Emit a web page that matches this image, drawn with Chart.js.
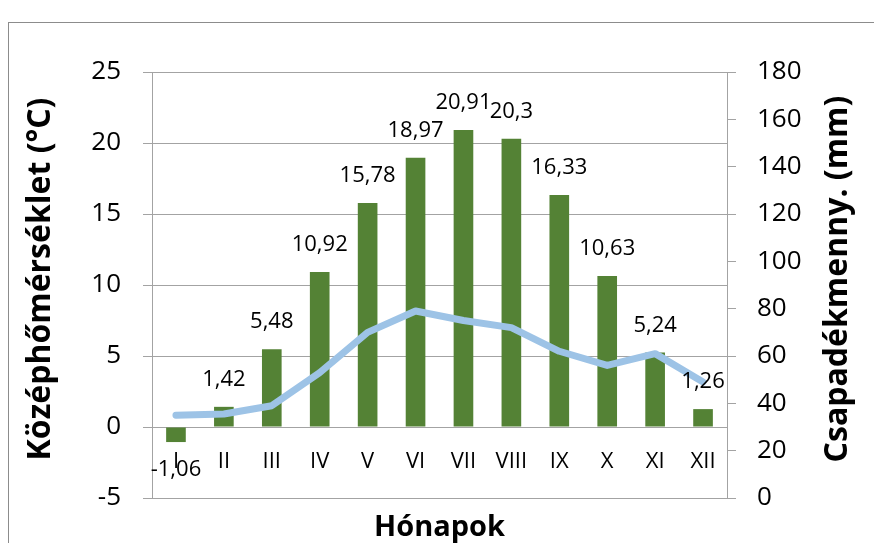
<!DOCTYPE html>
<html>
<head>
<meta charset="utf-8">
<script src="https://cdn.jsdelivr.net/npm/chart.js@4/dist/chart.umd.min.js"></script>
<style>
  html, body { margin: 0; padding: 0; background: #ffffff; }
  #wrap { width: 874px; height: 543px; position: relative; }
</style>
</head>
<body>
<div id="wrap"><canvas id="c" width="874" height="543"></canvas></div>
<script>
const months = ['I', 'II', 'III', 'IV', 'V', 'VI', 'VII', 'VIII', 'IX', 'X', 'XI', 'XII'];
const temperature = [-1.06, 1.42, 5.48, 10.92, 15.78, 18.97, 20.91, 20.3, 16.33, 10.63, 5.24, 1.26];
const precipitation = [35, 35.5, 39, 53, 70, 79, 75, 72, 62, 56, 61, 49];
const tempAxis = { min: -5, max: 25, step: 5 };
const precAxis = { min: 0, max: 180, step: 20 };
const xTitle = 'Hónapok';
const yTitle = 'Középhőmérséklet (°C)';
const y2Title = 'Csapadékmenny. (mm)';

const FONT = "'Open Sans', 'DejaVu Sans', sans-serif";
const GRID = '#a3a3a3';

const frame = {
  id: 'frame',
  beforeDraw(chart) {
    const ctx = chart.ctx;
    ctx.save();
    ctx.fillStyle = '#ffffff';
    ctx.fillRect(0, 0, chart.width, chart.height);
    ctx.strokeStyle = '#8c8c8c';
    ctx.lineWidth = 1;
    ctx.strokeRect(8.5, 22.5, 1000, 1000);
    ctx.restore();
  }
};

// vertical axis titles, both reading bottom-to-top
const sideTitles = {
  id: 'sideTitles',
  afterDraw(chart) {
    const ctx = chart.ctx;
    const area = chart.chartArea;
    const cy = (area.top + area.bottom) / 2 - 6;
    ctx.save();
    ctx.font = 'bold 32px ' + FONT;
    ctx.fillStyle = '#000000';
    ctx.textAlign = 'center';
    ctx.textBaseline = 'middle';
    [[yTitle, chart.scales.y.left + 41], [y2Title, chart.scales.y2.right - 36]].forEach(([t, x]) => {
      ctx.save();
      ctx.translate(x, cy);
      ctx.rotate(-Math.PI / 2);
      ctx.fillText(t, 0, 0);
      ctx.restore();
    });
    ctx.restore();
  }
};

const barLabels = {
  id: 'barLabels',
  afterDatasetsDraw(chart) {
    const ctx = chart.ctx;
    const meta = chart.getDatasetMeta(0);
    ctx.save();
    ctx.font = '22px ' + FONT;
    ctx.fillStyle = '#000000';
    ctx.textAlign = 'center';
    ctx.textBaseline = 'middle';
    meta.data.forEach((el, i) => {
      const v = temperature[i];
      const txt = String(v).replace('.', ',');
      const y = v >= 0 ? el.y - 27 : el.y + 28;
      ctx.fillText(txt, el.x, y);
    });
    ctx.restore();
  }
};

function start() {
  new Chart(document.getElementById('c'), {
    data: {
      labels: months,
      datasets: [
        {
          type: 'bar',
          label: 'Középhőmérséklet',
          data: temperature,
          backgroundColor: '#548235',
          borderWidth: 0,
          yAxisID: 'y',
          order: 2,
          categoryPercentage: 1,
          barPercentage: 0.41
        },
        {
          type: 'line',
          label: 'Csapadék',
          data: precipitation,
          borderColor: '#9dc3e6',
          borderWidth: 7,
          pointRadius: 0,
          tension: 0,
          borderJoinStyle: 'round',
          borderCapStyle: 'round',
          fill: false,
          yAxisID: 'y2',
          order: 1
        }
      ]
    },
    options: {
      responsive: false,
      animation: false,
      devicePixelRatio: 1,
      layout: { padding: { left: 0, right: 0, top: 72, bottom: 45 } },
      plugins: { legend: { display: false }, tooltip: { enabled: false } },
      scales: {
        x: {
          type: 'category',
          position: { y: 0 },
          offset: true,
          grid: { display: false, drawTicks: false },
          border: { display: true, color: GRID },
          ticks: { color: '#000', font: { family: FONT, size: 22 }, padding: 22, maxRotation: 0, autoSkip: false },
          title: { display: true, text: xTitle, color: '#000', font: { family: FONT, size: 29, weight: 'bold' }, padding: { top: 13, bottom: 0 } }
        },
        y: {
          position: 'left',
          min: tempAxis.min,
          max: tempAxis.max,
          afterFit(s) { s.width = 152; },
          ticks: { stepSize: tempAxis.step, color: '#000', font: { family: FONT, size: 26 }, padding: 22 },
          grid: { color: GRID, lineWidth: 1, tickLength: 9, drawTicks: true },
          border: { display: true, color: GRID },
          title: { display: false, text: yTitle }
        },
        y2: {
          position: 'right',
          min: precAxis.min,
          max: precAxis.max,
          afterFit(s) { s.width = 147; },
          ticks: { stepSize: precAxis.step, color: '#000', font: { family: FONT, size: 26 }, padding: 21 },
          grid: { drawOnChartArea: false, color: GRID, lineWidth: 1, tickLength: 9, drawTicks: true },
          border: { display: true, color: GRID },
          title: { display: false, text: y2Title }
        }
      }
    },
    plugins: [frame, barLabels, sideTitles]
  });
}

if (document.fonts && document.fonts.load) {
  Promise.all([
    document.fonts.load("22px 'Open Sans'"),
    document.fonts.load("bold 32px 'Open Sans'")
  ]).then(start, start);
} else {
  start();
}
</script>
</body>
</html>
